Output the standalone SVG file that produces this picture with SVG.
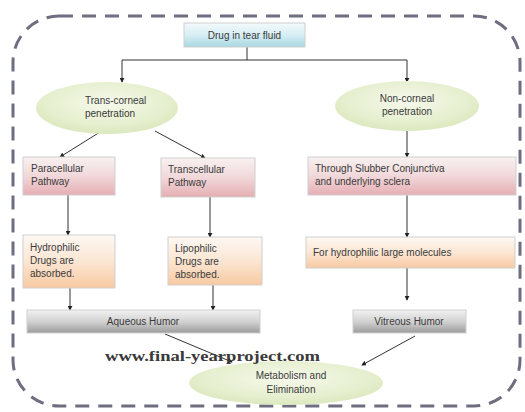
<svg xmlns="http://www.w3.org/2000/svg" width="525" height="412" viewBox="0 0 525 412">
<defs>
<linearGradient id="gBlue" x1="0" y1="0" x2="0" y2="1"><stop offset="0" stop-color="#f4fafc"/><stop offset="0.5" stop-color="#d7eef4"/><stop offset="1" stop-color="#a8d8e3"/></linearGradient>
<radialGradient id="gGreen" cx="0.5" cy="0.4" r="0.6"><stop offset="0" stop-color="#f6f9ec"/><stop offset="0.7" stop-color="#e6efcf"/><stop offset="1" stop-color="#dbe8bd"/></radialGradient>
<linearGradient id="gPink" x1="0" y1="0" x2="0" y2="1"><stop offset="0" stop-color="#f8f1f1"/><stop offset="0.5" stop-color="#f1d8da"/><stop offset="1" stop-color="#e5aeb3"/></linearGradient>
<linearGradient id="gOrange" x1="0" y1="0" x2="0" y2="1"><stop offset="0" stop-color="#fdf8f3"/><stop offset="0.5" stop-color="#fbe6d3"/><stop offset="1" stop-color="#f8c9a2"/></linearGradient>
<linearGradient id="gGray" x1="0" y1="0" x2="0" y2="1"><stop offset="0" stop-color="#f2f2f2"/><stop offset="0.5" stop-color="#d2d2d2"/><stop offset="1" stop-color="#9c9c9c"/></linearGradient>
<marker id="arr" viewBox="0 0 6 6" refX="5" refY="3" markerWidth="5" markerHeight="5" orient="auto"><path d="M0,0 L6,3 L0,6 z" fill="#222"/></marker>
</defs>
<style>
.t{font-family:"Liberation Sans","Open Sans",sans-serif;font-size:10px;fill:#3a3a3a}
.c{text-anchor:middle}
.box{stroke:#cfcfcf;stroke-width:1}
.ln{stroke:#333;stroke-width:1;fill:none;marker-end:url(#arr)}
.pl{stroke:#333;stroke-width:1;fill:none}
</style>
<rect width="525" height="412" fill="#ffffff"/>
<rect x="13" y="16" width="507" height="390" rx="46" ry="46" fill="none" stroke="#6e6e80" stroke-width="3" stroke-dasharray="14 9"/>

<g id="connectors">
<path class="pl" d="M247,47 V60 M122,60 H407"/>
<path class="ln" d="M122,60 V82"/>
<path class="ln" d="M407,60 V82"/>
<path class="ln" d="M100,132 L60,157"/>
<path class="ln" d="M155,131 L205,158"/>
<path class="ln" d="M407,131 V157"/>
<path class="ln" d="M68,195 V235"/>
<path class="ln" d="M210,197 V237"/>
<path class="ln" d="M407,195 V237"/>
<path class="ln" d="M70,288 V310"/>
<path class="ln" d="M213,285 V310"/>
<path class="ln" d="M407,268 V300"/>
<path class="ln" d="M165,334 L232,362"/>
<path class="ln" d="M415,336 L362,365"/>
</g>

<g id="n-drug">
<rect class="box" x="184" y="23" width="121" height="24" fill="url(#gBlue)"/>
<text class="t c" x="244.5" y="39">Drug in tear fluid</text>
</g>
<g id="n-trans">
<ellipse cx="107" cy="108" rx="71" ry="26" fill="url(#gGreen)"/>
<text class="t" x="85" y="104">Trans-corneal</text>
<text class="t" x="85" y="117">penetration</text>
</g>
<g id="n-non">
<ellipse cx="407" cy="106" rx="72" ry="25" fill="url(#gGreen)"/>
<text class="t c" x="407" y="102">Non-corneal</text>
<text class="t c" x="407" y="115">penetration</text>
</g>
<g id="n-para">
<rect class="box" x="23" y="157" width="92" height="38" fill="url(#gPink)"/>
<text class="t" x="31" y="172">Paracellular</text>
<text class="t" x="31" y="185">Pathway</text>
</g>
<g id="n-transc">
<rect class="box" x="161" y="158" width="94" height="39" fill="url(#gPink)"/>
<text class="t" x="168" y="173">Transcellular</text>
<text class="t" x="168" y="186">Pathway</text>
</g>
<g id="n-through">
<rect class="box" x="308" y="157" width="208" height="38" fill="url(#gPink)"/>
<text class="t" x="315" y="172">Through Slubber Conjunctiva</text>
<text class="t" x="315" y="185">and underlying sclera</text>
</g>
<g id="n-hydro">
<rect class="box" x="23" y="235" width="92" height="53" fill="url(#gOrange)"/>
<text class="t" x="30" y="251">Hydrophilic</text>
<text class="t" x="30" y="264">Drugs are</text>
<text class="t" x="30" y="277">absorbed.</text>
</g>
<g id="n-lipo">
<rect class="box" x="168" y="237" width="94" height="48" fill="url(#gOrange)"/>
<text class="t" x="175" y="252">Lipophilic</text>
<text class="t" x="175" y="265">Drugs are</text>
<text class="t" x="175" y="278">absorbed.</text>
</g>
<g id="n-large">
<rect class="box" x="306" y="237" width="209" height="31" fill="url(#gOrange)"/>
<text class="t" x="313" y="256">For hydrophilic large molecules</text>
</g>
<g id="n-aqueous">
<rect class="box" x="27" y="310" width="233" height="23" fill="url(#gGray)"/>
<text class="t c" x="143" y="325">Aqueous Humor</text>
</g>
<g id="n-vitreous">
<rect class="box" x="353" y="310" width="113" height="23" fill="url(#gGray)"/>
<text class="t c" x="409" y="325">Vitreous Humor</text>
</g>
<g id="n-metab">
<ellipse cx="286" cy="383" rx="97" ry="22" fill="url(#gGreen)"/>
<text class="t c" x="291" y="379">Metabolism and</text>
<text class="t c" x="291" y="393">Elimination</text>
</g>
<text x="105" y="361" textLength="215" lengthAdjust="spacingAndGlyphs" style="font-family:'Liberation Serif',serif;font-weight:bold;font-size:14px;fill:#3a3a3a">www.final-yearproject.com</text>
</svg>
